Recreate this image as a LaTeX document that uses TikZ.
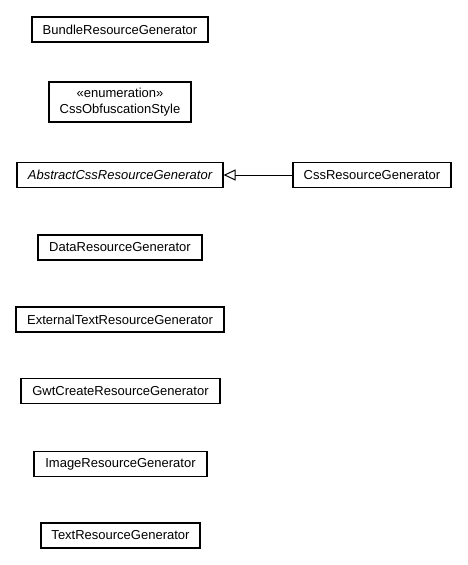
\documentclass[tikz,border=0pt]{standalone}
\usepackage{fontspec}
\setmainfont{Liberation Sans}
\usetikzlibrary{arrows.meta}
\begin{document}
\begin{tikzpicture}[x=1pt,y=-1pt,
  cls/.style={draw=black, line width=1.1pt, inner sep=0pt, minimum height=25pt, align=center, font=\fontsize{13}{16}\selectfont},
  gen/.style={-{Triangle[open, length=12pt, width=11pt, line width=1pt]}, line width=1pt}]
\useasboundingbox (0,0) rectangle (467,565);
\node[cls, minimum width=176pt] (bundle) at (120,29.5) {BundleResourceGenerator};
\node[cls, minimum width=142pt, minimum height=40pt] (obf) at (120,102) {«enumeration»\\CssObfuscationStyle};
\node[cls, minimum width=206pt] (abs) at (120,175) {\itshape AbstractCssResourceGenerator};
\node[cls, minimum width=158pt] (css) at (372,175) {CssResourceGenerator};
\node[cls, minimum width=164pt] (data) at (120,247.5) {DataResourceGenerator};
\node[cls, minimum width=208pt] (ext) at (120,319.5) {ExternalTextResourceGenerator};
\node[cls, minimum width=199pt] (gwt) at (120.5,391) {GwtCreateResourceGenerator};
\node[cls, minimum width=173pt] (img) at (120.5,464) {ImageResourceGenerator};
\node[cls, minimum width=159pt] (txt) at (120.5,535.5) {TextResourceGenerator};
\draw[gen] (css) -- (abs);
\end{tikzpicture}
\end{document}
